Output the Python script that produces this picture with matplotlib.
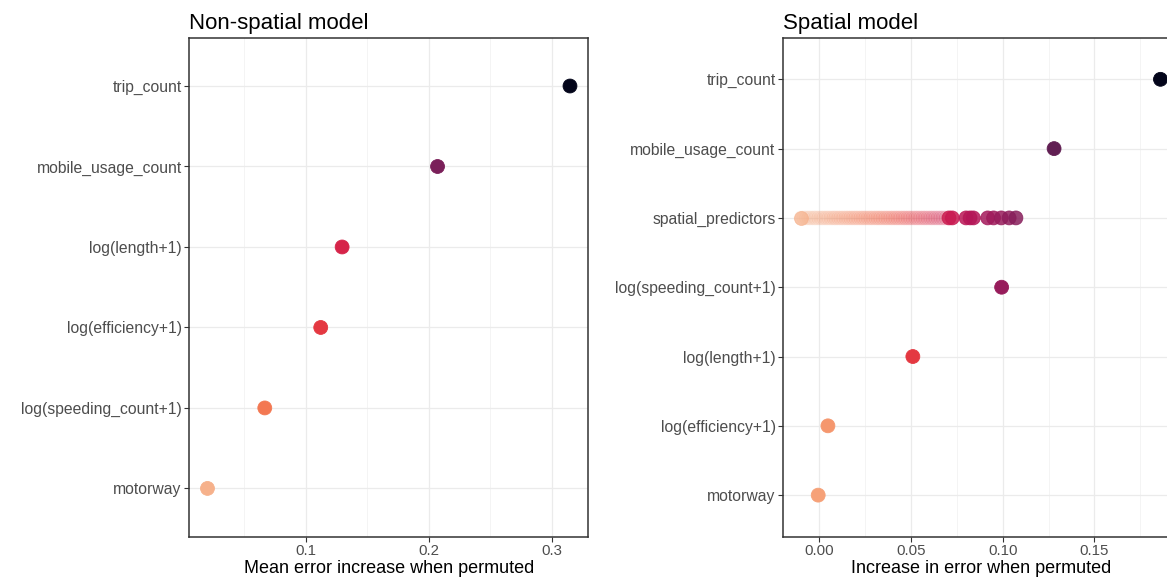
import numpy as np
import matplotlib
matplotlib.use("Agg")
import matplotlib.pyplot as plt
from matplotlib.ticker import MultipleLocator
import seaborn as sns

plt.rcParams['font.family'] = ['Liberation Sans', 'DejaVu Sans']

# Non-spatial model (top to bottom)
left_vars = ["trip_count", "mobile_usage_count", "log(length+1)",
             "log(efficiency+1)", "log(speeding_count+1)", "motorway"]
left_vals = [0.3147, 0.2070, 0.1294, 0.1120, 0.0665, 0.0199]

# Spatial model (top to bottom)
right_vars = ["trip_count", "mobile_usage_count", "spatial_predictors",
              "log(speeding_count+1)", "log(length+1)", "log(efficiency+1)",
              "motorway"]
right_vals = [0.1860, 0.1280, None, 0.0994, 0.0510, 0.0047, -0.0006]
# many spatial predictors: dense low-importance band + a few stronger ones
spatial_dense = [-0.0099, -0.0085, -0.0071, -0.0058, -0.0046, -0.0031, -0.0019,
                 -0.0004, 0.0010, 0.0023, 0.0037, 0.0050, 0.0064, 0.0078,
                 0.0090, 0.0104, 0.0117, 0.0131, 0.0145, 0.0158, 0.0171,
                 0.0185, 0.0198, 0.0212, 0.0226, 0.0239, 0.0252, 0.0266,
                 0.0279, 0.0293, 0.0307, 0.0320, 0.0333, 0.0347, 0.0361,
                 0.0374, 0.0388, 0.0401, 0.0415, 0.0428, 0.0442, 0.0456,
                 0.0469, 0.0483, 0.0496, 0.0510, 0.0524, 0.0537, 0.0551,
                 0.0565, 0.0578, 0.0592, 0.0606, 0.0619, 0.0633, 0.0647,
                 0.0661, 0.0675, 0.0690]
spatial_top = [0.0707, 0.0725, 0.0800, 0.0822, 0.0840, 0.0918, 0.0950,
               0.0992, 0.1035, 0.1072]

cmap = sns.color_palette("rocket_r", as_cmap=True)
GRID = "#EBEBEB"


def style_axes(ax, title, xlabel, nvars, labels):
    ax.set_title(title, loc="left", fontsize=16, pad=6)
    ax.set_xlabel(xlabel, fontsize=13, labelpad=1)
    ax.set_yticks(range(nvars))
    ax.set_yticklabels(labels[::-1])
    ax.set_ylim(-0.6, nvars - 0.4)
    ax.grid(True, which="major", color=GRID, lw=0.9, zorder=0)
    ax.grid(True, which="minor", axis="x", color="#F2F2F2", lw=0.6, zorder=0)
    ax.set_axisbelow(True)
    for s in ax.spines.values():
        s.set_color("#333333")
        s.set_linewidth(1.1)
    ax.tick_params(axis="both", which="major", length=3.5, width=0.8,
                   color="#333333", labelcolor="#4D4D4D", labelsize=11.3, pad=2)
    ax.tick_params(axis="x", which="major", labelsize=10.8)
    ax.tick_params(axis="both", which="minor", length=0)


def draw_points(ax, xs, ys, vmin, vmax, alpha=1.0, s=100):
    e = 0.85
    lo = vmax - (vmax - vmin) / e
    cols = cmap((np.asarray(xs) - lo) / (vmax - lo))
    ax.scatter(xs, ys, c=cols, s=s, edgecolors=cols, linewidths=0.6,
               alpha=alpha, zorder=3)


fig = plt.figure(figsize=(11.67, 5.83), dpi=100)

# left panel
ax1 = fig.add_axes([0.1623, 0.0794, 0.3416, 0.8559])
n1 = len(left_vars)
y1 = [n1 - 1 - i for i in range(n1)]
ax1.set_xlim(0.0052, 0.3294)
ax1.xaxis.set_minor_locator(MultipleLocator(0.05))
ax1.set_xticks([0.1, 0.2, 0.3])
ax1.set_xticklabels(["0.1", "0.2", "0.3"])
draw_points(ax1, left_vals, y1, min(left_vals), max(left_vals))
style_axes(ax1, "Non-spatial model", "Mean error increase when permuted", n1, left_vars)

# right panel (extends past the figure's right edge, as in the source)
ax2 = fig.add_axes([0.6711, 0.0794, 0.3387, 0.8559])
n2 = len(right_vars)
ax2.set_xlim(-0.0197, 0.1958)
ax2.set_xticks([0.0, 0.05, 0.10, 0.15])
ax2.set_xticklabels(["0.00", "0.05", "0.10", "0.15"])
ax2.xaxis.set_minor_locator(MultipleLocator(0.025))
rmin = min(spatial_dense)
rmax = max(v for v in right_vals if v is not None)
px, py = [], []
for i, v in enumerate(right_vals):
    if v is not None:
        px.append(v)
        py.append(n2 - 1 - i)
sp_y = n2 - 1 - right_vars.index("spatial_predictors")
draw_points(ax2, spatial_dense, [sp_y] * len(spatial_dense), rmin, rmax,
            alpha=0.12)
draw_points(ax2, spatial_dense[:1], [sp_y], rmin, rmax, alpha=0.7)
draw_points(ax2, spatial_top, [sp_y] * len(spatial_top), rmin, rmax, alpha=0.85)
draw_points(ax2, px, py, rmin, rmax)
style_axes(ax2, "Spatial model", "Increase in error when permuted", n2, right_vars)

fig.savefig("out.png", dpi=100)
